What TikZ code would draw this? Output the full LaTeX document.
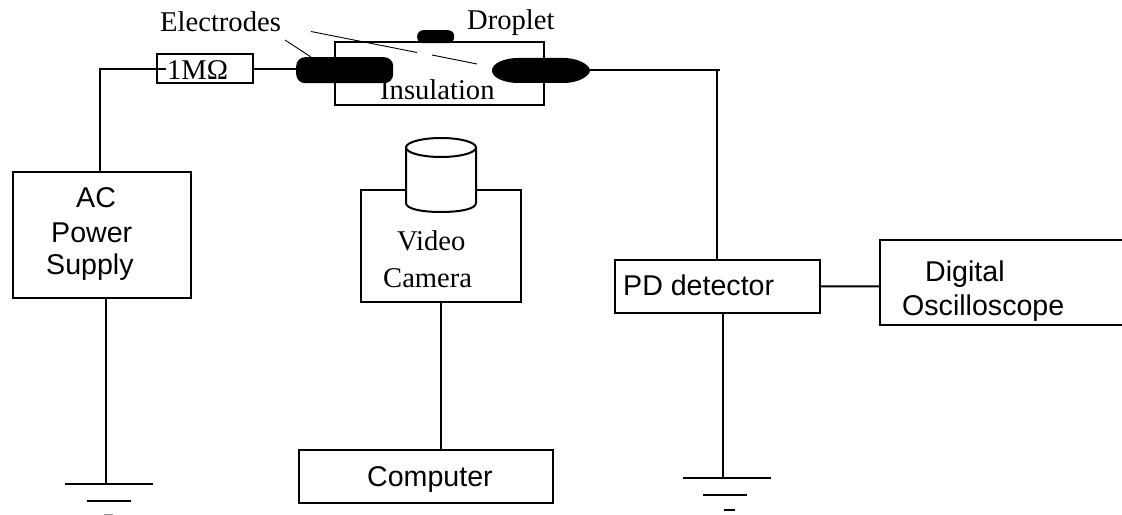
\documentclass[tikz,border=0pt]{standalone}
\usepackage{fontspec}
\setmainfont{Liberation Serif}
\newfontfamily\arialf{Liberation Sans}
\begin{document}
\begin{tikzpicture}[x=1bp,y=-1bp,
  wire/.style={line width=2bp,draw=black,line cap=butt},
  boxn/.style={draw=black,line width=2bp,fill=none,inner sep=0pt,outer sep=0pt,minimum width=#1},
  thin line/.style={line width=0.9bp,draw=black},
  sans/.style={font=\arialf\fontsize{28.7}{30}\selectfont,inner sep=0pt,anchor=base west,align=left},
  serif/.style={font=\fontsize{28.7}{30}\selectfont,inner sep=0pt,anchor=base west},
  blob/.style={fill=black,draw=none}]
\useasboundingbox (0,0) rectangle (1122,515);
% boxes
\node[boxn=96bp,minimum height=29bp,anchor=north west] (res) at (157,54.5) {};
\node[boxn=209bp,minimum height=63bp,anchor=north west] (ins) at (335,42) {};
\node[boxn=178bp,minimum height=126bp,anchor=north west] (ac) at (13,172) {};
\node[boxn=160bp,minimum height=112bp,anchor=north west] (cam) at (361,190) {};
\node[boxn=254bp,minimum height=53bp,anchor=north west] (comp) at (299,450) {};
\node[boxn=205bp,minimum height=53bp,anchor=north west] (pd) at (615,260) {};
% oscilloscope: open at the right border
\coordinate (oscTR) at (1122,240);
\coordinate (oscTL) at (880,240);
\coordinate (oscBL) at (880,325);
\coordinate (oscBR) at (1122,325);
\draw[wire] (oscTR) -- (oscTL) -- (oscBL) -- (oscBR);
% electrodes and droplet
\node[blob,rounded corners=9bp,minimum width=97bp,minimum height=26bp,inner sep=0pt,anchor=north west] (el) at (296,57) {};
\fill[black] (492,70.5) .. controls (492,63) and (505,58) .. (518,58) -- (564,58) .. controls (578,58) and (590,65) .. (590,70.5) .. controls (590,76) and (578,83) .. (564,83) -- (518,83) .. controls (505,83) and (492,78) .. (492,70.5) -- cycle;
\coordinate (er) at (590,70.5);
\node[blob,rounded corners=6bp,minimum width=37bp,minimum height=13bp,inner sep=0pt,anchor=north west] (drop) at (417,30) {};
% wires
\coordinate (c1) at (100,69);
\coordinate (c2) at (717,70.5);
\coordinate (wr) at (res.east);
\draw[wire] (ac.north -| c1) -- (c1) -- (166,69);
\draw[wire] (res.east) -- (el.west |- wr);
\draw[wire] (er) -- (720,70.5);
\draw[wire] (c2) -- (c2 |- pd.north);
\draw[wire] (pd.east) -- (880,286.5);
\coordinate (cw) at (441,302);
\draw[wire] (cam.south -| cw) -- (comp.north -| cw);
% grounds
\coordinate (g1) at (106,483.5);
\coordinate (g2) at (723,478);
\draw[wire] (ac.south -| g1) -- (g1);
\draw[wire] (pd.south -| g2) -- (g2);
\draw[wire] (65,483.5) -- (153,483.5);
\draw[wire] (87,501) -- (131,501);
\draw[line width=1bp,draw=black!40] (104,514) -- (113,514);
\draw[wire] (683,478) -- (771,478);
\draw[wire] (703,495) -- (747,495);
\draw[line width=2.2bp,draw=black] (724,510) -- (735,510);
% leader lines
\coordinate (lead1) at (285,40);
\coordinate (lead2) at (311,57);
\draw[thin line] (lead1) -- (lead2);
\draw[thin line] (311,31.5) -- (417,52.5);
\draw[thin line] (432,55) -- (477,64);
% camera cylinder
\draw[black,line width=2bp,fill=white] (406,147.5) -- (406,203) .. controls (406,209) and (422,212) .. (441,212) .. controls (460,212) and (476,209) .. (476,203) -- (476,147.5);
\draw[black,line width=2bp,fill=white] (441,147.5) ellipse [x radius=35,y radius=9.5];
% text
\node[serif] (telectrodes) at (160,32) {Electrodes};
\node[serif] (tdroplet) at (467,30) {Droplet};
\node[serif] (tins) at (380,100) {Insulation};
\node[serif] (tres) at (167,80) {1MΩ};
\node[sans] (tac1) at (76,208) {AC};
\node[sans] (tac2) at (51,243) {Power};
\node[sans] (tac3) at (46,275) {Supply};
\node[serif] (tvid) at (397,251) {Video};
\node[serif] (tcam) at (383,288) {Camera};
\node[sans] (tcomp) at (367,486) {Computer};
\node[sans] (tpd) at (623,296) {PD detector};
\node[sans] (tdig) at (925,282) {Digital};
\node[sans] (tosc) at (902,316) {Oscilloscope};
\end{tikzpicture}
\end{document}
